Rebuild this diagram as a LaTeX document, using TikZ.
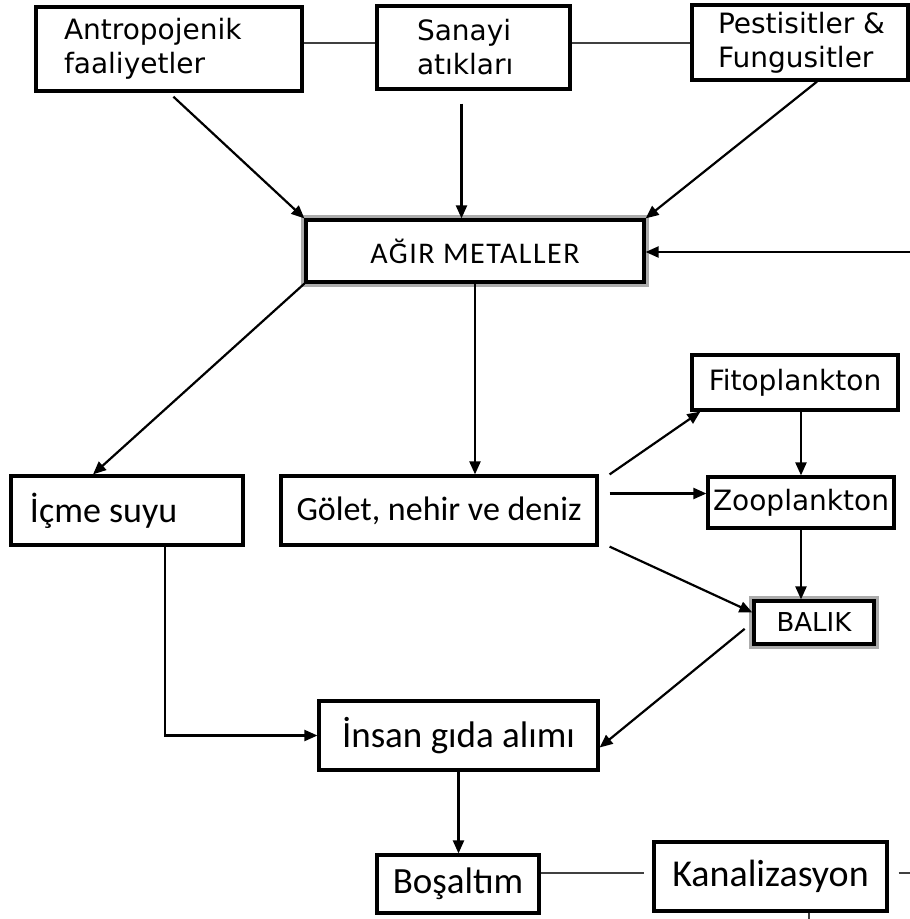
\documentclass[tikz,border=0pt]{standalone}
\usepackage{fontspec}
\setmainfont{Carlito}
\newfontfamily\verd{DejaVu Sans}
\newfontfamily\genis[LetterSpace=5]{Carlito}
\usetikzlibrary{arrows.meta, calc, positioning}

\begin{document}
\begin{tikzpicture}[x=1pt,y=-1pt,
    kutu/.style={draw, line width=3.2pt, inner ysep=0pt},
    cift/.style={draw, fill=white, line width=3.2pt, inner sep=0pt, preaction={draw=gray!65, line width=9.5pt}},
    vfont/.style={font=\verd\fontsize{28}{34}\selectfont},
    ok/.style={-{Triangle[length=13pt,width=11pt]}, line width=2.2pt},
    bag/.style={line width=2pt, draw=black!75}]
    \useasboundingbox (0,0) rectangle (910,919);
    % kaynaklar
    \node[kutu, vfont, align=flush left, text width=210pt, inner xsep=28pt, minimum height=84pt] (antro) at (169,49) {Antropojenik\\faaliyetler};
    \node[kutu, vfont, align=flush left, text width=113pt, inner xsep=40pt, minimum height=83pt] (sanayi) at (473.5,47.5) {Sanayi\\atıkları};
    \node[kutu, vfont, align=flush left, text width=176pt, inner xsep=20pt, minimum height=75pt] (pest) at (800,42.5) {\hspace*{6pt}Pestisitler \&\\\hspace*{6pt}Fungusitler};
    \node[cift, font=\genis\fontsize{30}{36}\selectfont, minimum width=338pt, minimum height=62pt] (agir) at (475,251) {AĞIR METALLER};
    % su ortami
    \node[kutu, vfont, minimum width=206pt, minimum height=55pt] (fito) at (795,382.5) {Fitoplankton};
    \node[kutu, vfont, minimum width=186pt, minimum height=51pt] (zoo) at (801,502.5) {Zooplankton};
    \node[cift, font=\verd\fontsize{26}{30}\selectfont, minimum width=120pt, minimum height=43pt] (balik) at (814,622.5) {BALIK};
    \node[kutu, font=\fontsize{36}{40}\selectfont, align=flush left, text width=194pt, inner xsep=19pt, minimum height=69pt] (icme) at (127,510.5) {İçme suyu};
    \node[kutu, font=\fontsize{34}{40}\selectfont, minimum width=316pt, minimum height=69pt] (golet) at (439,510.5) {Gölet, nehir ve deniz};
    % insan
    \node[kutu, font=\fontsize{37}{40}\selectfont, minimum width=279pt, minimum height=69pt] (insan) at (458.5,735.5) {İnsan gıda alımı};
    \node[kutu, font=\fontsize{37}{40}\selectfont, minimum width=162pt, minimum height=58pt] (bosal) at (458,884) {Boşaltım};
    \node[kutu, font=\fontsize{38}{40}\selectfont, minimum width=233pt, minimum height=69pt] (kanal) at (770.5,876.5) {Kanalizasyon};
    \coordinate (ust) at (0,43);
    \coordinate (alt) at (0,873);
    \coordinate (sag) at (910,252);
    \coordinate (sagalt) at (910,873);
    \coordinate (altuc) at (809,919);
    \draw[bag] (antro.east |- ust) -- (sanayi.west |- ust); %ust cizgi
    \draw[bag] (sanayi.east |- ust) -- (pest.west |- ust);
    \draw[ok, shorten <=6pt] (antro.south) -- (agir.north west);
    \draw[ok] ([xshift=-12pt,yshift=-13pt]sanayi.south) -- ([xshift=-12pt]sanayi.south |- agir.north);
    \draw[ok] ([xshift=17pt]pest.south) -- (agir.north east);
    \draw[ok] (sag) -- (sag -| agir.east);
    \draw[ok] (agir.south west) -- ([xshift=-34pt]icme.north);
    \draw[ok] (agir.south) -- (agir.south |- golet.north);
    \draw[ok] ([xshift=11pt]golet.north east) -- ([xshift=10pt]fito.south west);
    \draw[ok] ([shift={(11pt,17pt)}]golet.east) -- ([yshift=17pt]golet.east -| zoo.west);
    \draw[ok] ([xshift=11pt]golet.south east) -- ([yshift=10pt]balik.west);
    \draw[ok] (zoo.north |- fito.south) -- (zoo.north);
    \draw[ok] (zoo.south) -- (zoo.south |- balik.north);
    \draw[ok, shorten <=10pt] (balik.west) -- ([yshift=-12pt]insan.east);
    \draw[ok] ([xshift=38pt]icme.south) |- (insan.west);
    \draw[ok] (insan.south) -- (insan.south |- bosal.north);
    \draw[bag, shorten >=8pt] (bosal.east |- alt) -- (kanal.west |- alt); %kanalizasyon
    \draw[bag, shorten <=10pt] (kanal.east |- sagalt) -- (sagalt);
    \draw[bag] (altuc |- kanal.south) -- (altuc);
\end{tikzpicture}
\end{document}
